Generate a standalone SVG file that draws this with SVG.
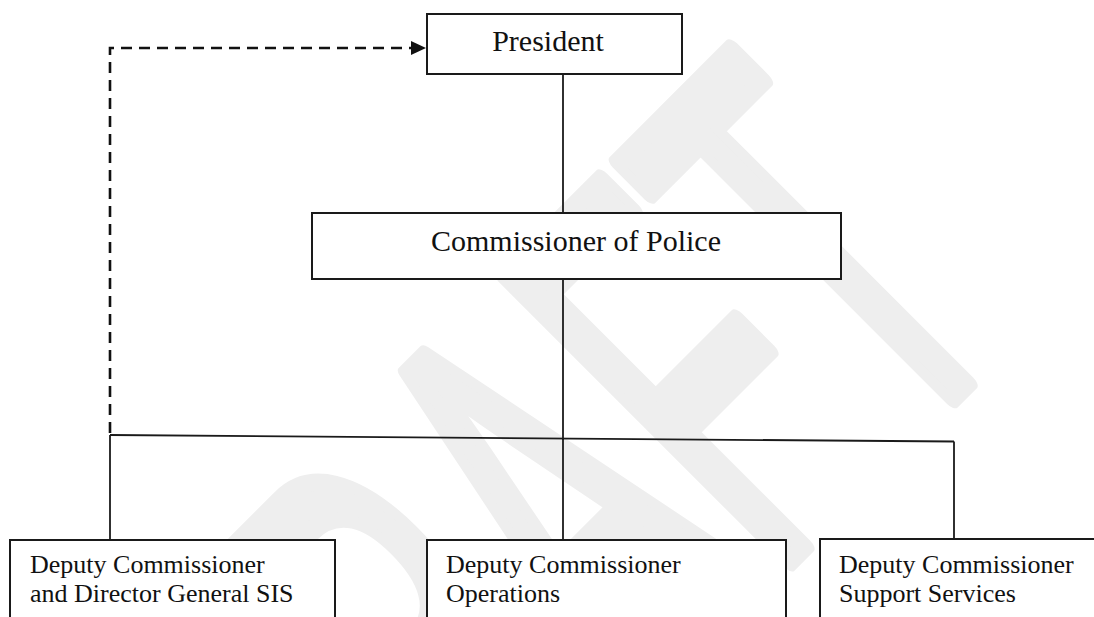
<svg xmlns="http://www.w3.org/2000/svg" width="1094" height="617" viewBox="0 0 1094 617">
<style>
.box{fill:#ffffff;stroke:#1a1a1a;stroke-width:2}
.ln{fill:none;stroke:#1a1a1a;stroke-width:1.8}
.dash{fill:none;stroke:#111;stroke-width:2.6;stroke-dasharray:11 7}
.t30{font-family:"Liberation Serif","Times New Roman",serif;font-size:30px;fill:#111}
.t26{font-family:"Liberation Serif","Times New Roman",serif;font-size:26px;fill:#111}
.wm{font-family:"Liberation Sans",Arial,sans-serif;font-size:293px;fill:#eeeeee;stroke:#eeeeee;stroke-width:10;stroke-linejoin:round}
</style>
<defs>
<marker id="arr" markerWidth="16" markerHeight="14" refX="15" refY="7" orient="auto" markerUnits="userSpaceOnUse">
<path d="M0,0 L15,7 L0,14 Z" fill="#111"/>
</marker>
</defs>
<rect width="1094" height="617" fill="#ffffff"/>
<text class="wm" transform="translate(333 1018) rotate(-45) scale(1 2)" x="0" y="0">DRAFT</text>
<g id="connectors">
<path class="dash" d="M110,433 L110,48 L426,48" marker-end="url(#arr)"/>
<line class="ln" x1="563" y1="74" x2="563" y2="213"/>
<line class="ln" x1="563" y1="279" x2="563" y2="440"/>
<line class="ln" x1="110" y1="435" x2="954" y2="441.5"/>
<line class="ln" x1="110" y1="435" x2="110" y2="540"/>
<line class="ln" x1="563" y1="439" x2="563" y2="540"/>
<line class="ln" x1="954" y1="441.5" x2="954" y2="539"/>
</g>
<g id="president">
<rect class="box" x="427" y="14" width="255" height="60"/>
<text class="t30" x="548" y="51" text-anchor="middle">President</text>
</g>
<g id="commissioner">
<rect class="box" x="312" y="213" width="529" height="66"/>
<text class="t30" x="576" y="251" text-anchor="middle">Commissioner of Police</text>
</g>
<g id="dc-sis">
<rect class="box" x="10" y="540" width="325" height="90"/>
<text class="t26" x="30" y="573">Deputy Commissioner</text>
<text class="t26" x="30" y="602">and Director General SIS</text>
</g>
<g id="dc-ops">
<rect class="box" x="427" y="540" width="359" height="90"/>
<text class="t26" x="446" y="573">Deputy Commissioner</text>
<text class="t26" x="446" y="602">Operations</text>
</g>
<g id="dc-support">
<rect class="box" x="820" y="539" width="290" height="90"/>
<text class="t26" x="839" y="573">Deputy Commissioner</text>
<text class="t26" x="839" y="602">Support Services</text>
</g>
</svg>
